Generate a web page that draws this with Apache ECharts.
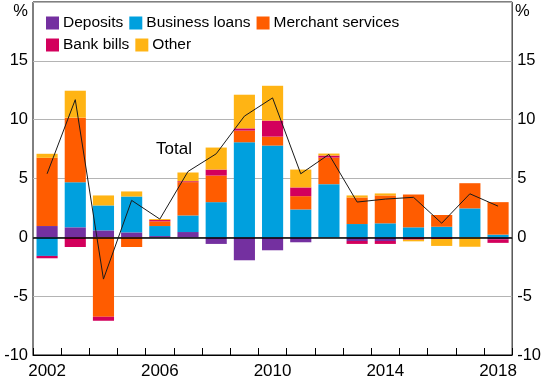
<!DOCTYPE html>
<html>
<head>
<meta charset="utf-8">
<script src="https://cdn.jsdelivr.net/npm/echarts@6/dist/echarts.min.js"></script>
<style>
html,body{margin:0;padding:0;background:#fff;}
#chart{width:544px;height:385px;}
</style>
</head>
<body>
<div id="chart"></div>
<script>
const years = ['2002','2003','2004','2005','2006','2007','2008','2009','2010','2011','2012','2013','2014','2015','2016','2017','2018'];
const deposits      = [0.96, 0.85, 0.59, 0.42, 0.11, 0.45, -0.56, -1.95, -1.10, -0.42, 0, -0.31, -0.31, 0, 0, 0, -0.17];
const businessLoans = [-1.58, 3.84, 2.12, 3.05, 0.85, 1.41, 2.99, 8.08, 7.80, 2.37, 4.52, 1.13, 1.19, 0.85, 0.90, 2.46, 0.23];
const merchant      = [5.80, 5.48, -6.75, -0.82, 0.40, 2.83, 2.26, 0.99, 0.76, 1.13, 2.26, 2.26, 2.37, 2.79, 1.00, 2.14, 2.76];
const bankBills     = [-0.20, -0.82, -0.34, 0, 0.11, 0.08, 0.51, 0.19, 1.36, 0.74, 0.17, -0.25, -0.25, -0.20, -0.14, 0, -0.30];
const other         = [0.34, 2.29, 0.85, 0.43, 0.08, 0.74, 1.87, 2.86, 2.96, 1.52, 0.17, 0.17, 0.17, -0.14, -0.59, -0.80, 0];
const total         = [5.40, 11.70, -3.55, 3.14, 1.55, 5.60, 7.10, 10.30, 11.85, 5.40, 7.05, 3.00, 3.25, 3.40, 1.20, 3.70, 2.65];
const yTicks = {min: -10, max: 20, interval: 5};

const FONT = "'Liberation Sans', Arial, sans-serif";
const colors = {
  'Deposits': '#7430A0',
  'Business loans': '#00A0DE',
  'Merchant services': '#FF5C00',
  'Bank bills': '#D3005C',
  'Other': '#FFB414'
};
const chart = echarts.init(document.getElementById('chart'), null, {renderer: 'canvas'});

function barSeries(name, data) {
  return {
    name: name, type: 'bar', stack: 'all', data: data,
    barCategoryGap: '25%',
    itemStyle: {color: colors[name]},
    emphasis: {disabled: true},
    z: 2
  };
}

const yAxisCommon = {
  type: 'value', min: yTicks.min, max: yTicks.max, interval: yTicks.interval,
  axisLine: {show: false}, axisTick: {show: false},
  axisLabel: {color: '#000', fontSize: 16.5, fontFamily: FONT, margin: 5,
    formatter: v => (v === yTicks.max ? '' : String(v))},
};

const legendCommon = {
  orient: 'horizontal', padding: 0,
  icon: 'rect', itemWidth: 13, itemHeight: 13, itemGap: 6,
  textStyle: {color: '#000', fontSize: 15.5, fontFamily: FONT, padding: [0, 0, 0, -1]}
};

const option = {
  animation: false,
  backgroundColor: '#fff',
  textStyle: {fontFamily: FONT},
  grid: {left: 33, right: 31, top: 2, bottom: 30, show: true, borderColor: '#000', borderWidth: 1, backgroundColor: 'transparent'},
  legend: [
    Object.assign({data: ['Deposits', 'Business loans', 'Merchant services'], left: 46, top: 15}, legendCommon),
    Object.assign({data: ['Bank bills', 'Other'], left: 46, top: 37}, legendCommon)
  ],
  xAxis: {
    type: 'category', data: years, boundaryGap: true,
    axisLine: {show: true, onZero: false, lineStyle: {color: '#000', width: 1}},
    axisTick: {show: true, inside: true, length: 7, interval: 0, lineStyle: {color: '#000'}},
    axisLabel: {interval: 3, color: '#000', fontSize: 17, fontFamily: FONT, margin: 8},
    splitLine: {show: false}
  },
  yAxis: [
    Object.assign({}, yAxisCommon, {position: 'left',
      splitLine: {show: true, lineStyle: {color: '#b4b4b4', width: 1}}}),
    Object.assign({}, yAxisCommon, {position: 'right', splitLine: {show: false}})
  ],
  graphic: [
    {type: 'text', right: 516, top: 3, style: {text: '%', fill: '#000', font: '16.5px ' + FONT, textAlign: 'right'}},
    {type: 'text', left: 515, top: 3, style: {text: '%', fill: '#000', font: '16.5px ' + FONT}},
    {type: 'text', left: 156, top: 141, style: {text: 'Total', fill: '#000', font: '17px ' + FONT}}
  ],
  series: [
    barSeries('Deposits', deposits),
    barSeries('Business loans', businessLoans),
    barSeries('Merchant services', merchant),
    barSeries('Bank bills', bankBills),
    barSeries('Other', other),
    {
      name: 'Total', type: 'line', data: total, symbol: 'none',
      lineStyle: {color: '#1a1a1a', width: 1}, z: 5, emphasis: {disabled: true},
      markLine: {silent: true, symbol: 'none', label: {show: false},
        lineStyle: {color: '#000', width: 1.5, type: 'solid'},
        data: [{yAxis: 0}], z: 4}
    }
  ]
};
chart.setOption(option);
</script>
</body>
</html>
